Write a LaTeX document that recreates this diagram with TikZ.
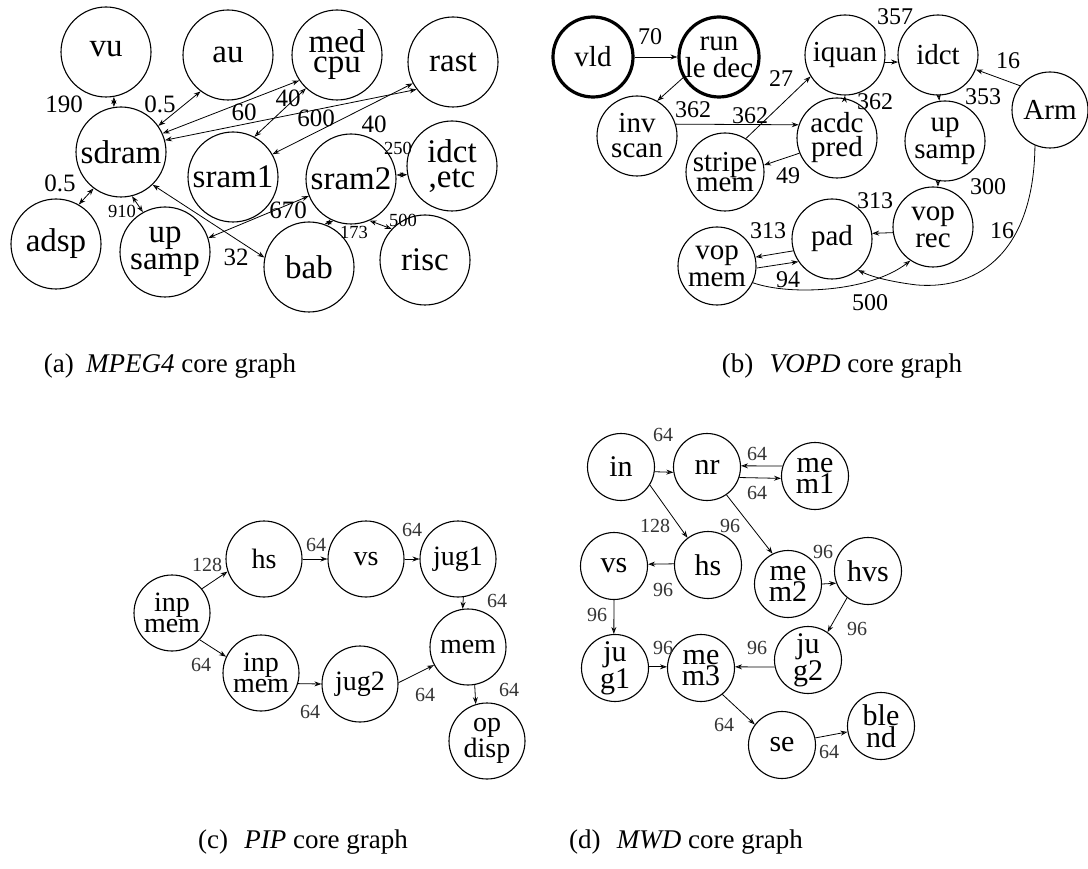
\documentclass[tikz,border=0pt]{standalone}
\usepackage{fontspec}
\setmainfont{Liberation Serif}
\usetikzlibrary{arrows.meta}
\begin{document}
\begin{tikzpicture}[x=1pt,y=-1pt,
  >={Stealth[open,length=7pt,width=5pt]},
  core/.style={circle,draw,line width=1.1pt,inner sep=0pt},
  ca/.style={core,minimum size=90pt},
  cb/.style={core,minimum size=80pt},
  cc/.style={core,minimum size=76pt},
  cd/.style={core,minimum size=67pt},
  heavy/.style={line width=3.2pt},
  txt/.style={rectangle,draw=none,align=center,inner sep=0pt},
  ta/.style={txt,font=\fontsize{33}{27}\selectfont},
  tb/.style={txt,font=\fontsize{29}{27}\selectfont},
  tc/.style={txt,font=\fontsize{28}{21}\selectfont},
  td/.style={txt,font=\fontsize{30}{17}\selectfont},
  lbl/.style={inner sep=0pt},
  la/.style={lbl,font=\fontsize{25}{25}\selectfont},
  las/.style={lbl,font=\fontsize{18.5}{18.5}\selectfont},
  lb/.style={lbl,font=\fontsize{24}{24}\selectfont},
  lc/.style={lbl,font=\fontsize{20}{20}\selectfont,text=black!80},
  captxt/.style={inner sep=0pt,font=\fontsize{27}{27}\selectfont},
  link/.style={line width=0.8pt},
]
\useasboundingbox (0,0) rectangle (1088,869);

% ---------------- (a) MPEG4 ----------------
\node[ca] (vu) at (106,52) {};
\node[ca] (au) at (228,55) {};
\node[ca] (medcpu) at (337,55) {};
\node[ca] (rast) at (453,62) {};
\node[ca] (sdram) at (121,152) {};
\node[ca] (sram1) at (233,177) {};
\node[ca] (sram2) at (351,179) {};
\node[ca] (idct) at (452,166) {};
\node[ca] (adsp) at (56,244) {};
\node[ca] (upsamp) at (165,252) {};
\node[ca] (bab) at (309,267) {};
\node[ca] (risc) at (425,260) {};

\node[ta] (vu-t) at (106,49) {vu};
\node[ta] (au-t) at (au) {au};
\node[ta,font=\fontsize{33}{20}\selectfont] (medcpu-t) at (medcpu) {med\\cpu};
\node[ta] (rast-t) at (rast) {rast};
\node[ta] (sdram-t) at (sdram) {sdram};
\node[ta] (sram1-t) at (sram1) {sram1};
\node[ta] (sram2-t) at (sram2) {sram2};
\node[ta,font=\fontsize{33}{25}\selectfont] (idct-t) at (idct) {idct\\,etc};
\node[ta] (adsp-t) at (adsp) {adsp};
\node[ta] (upsamp-t) at (upsamp) {up\\samp};
\node[ta] (bab-t) at (bab) {bab};
\node[ta] (risc-t) at (risc) {risc};

\draw[link,<->] (vu.-80) -- (sdram.99);
\draw[link,<->] (sdram.35) -- (au.233);
\draw[link,<->] (sdram.24) -- (medcpu.214);
\draw[link,<->] (medcpu.227) -- (sram1.62);
\draw[link,<->] (sdram.15) -- (rast.217);
\draw[link,<->] (rast.208) -- (sram1.30);
\draw[link,<->] (sram2.5) -- (idct.191);
\draw[link,<->] (adsp.60) -- (sdram.233);
\draw[link,<->] (sdram.-76) -- (upsamp.119);
\draw[link,<->] (sdram.-46) -- (bab.168);
\draw[link,<->] (sram2.202) -- (upsamp.18);
\draw[link,<->] (sram2.247) -- (bab.70);
\draw[link,<->] (sram2.-66) -- (risc.137);

\node[la] (a1) at (64,104) {190};
\node[la] (a2) at (160,104) {0.5};
\node[la] (a3) at (244,112) {60};
\node[la] (a4) at (288,98) {40};
\node[la] (a5) at (316,118) {600};
\node[la] (a6) at (374,124) {40};
\node[la] (a7) at (60,183) {0.5};
\node[la] (a8) at (236,257) {32};
\node[la] (a9) at (288,210) {670};
\node[las] (a10) at (398,148) {250};
\node[las] (a11) at (122,211) {910};
\node[las] (a12) at (354,232) {173};
\node[las] (a13) at (403,220) {500};

\node[captxt] (capa) at (170,366) {(a)\hspace{0.45em}\textit{MPEG4} core graph};

% ---------------- (b) VOPD ----------------
\node[cb,heavy] (vld) at (593,57) {};
\node[cb,heavy] (rld) at (719,57) {};
\node[cb] (inv) at (637,136) {};
\node[cb] (iquan) at (845,55) {};
\node[cb] (idctb) at (938,55) {};
\node[cb,minimum size=76pt] (arm) at (1050,110) {};
\node[cb] (acdc) at (837,138) {};
\node[cb] (upsb) at (945,141) {};
\node[cb,minimum size=78pt] (stripe) at (725,172) {};
\node[cb] (voprec) at (933,227) {};
\node[cb] (pad) at (832,239) {};
\node[cb,minimum size=78pt] (vopmem) at (717,266) {};

\node[tb] (vld-t) at (vld) {vld};
\node[tb] (rld-t) at (rld) {run\\le dec};
\node[tb,font=\fontsize{29}{25}\selectfont] (inv-t) at (inv) {inv\\scan};
\node[tb] (iquan-t) at (iquan) {iquan};
\node[tb] (idctb-t) at (idctb) {idct};
\node[tb] (arm-t) at (arm) {Arm};
\node[tb,font=\fontsize{29}{24}\selectfont] (acdc-t) at (acdc) {acdc\\pred};
\node[tb] (upsb-t) at (upsb) {up\\samp};
\node[tb,font=\fontsize{29}{19}\selectfont] (stripe-t) at (stripe) {stripe\\mem};
\node[tb] (voprec-t) at (voprec) {vop\\rec};
\node[tb] (pad-t) at (pad) {pad};
\node[tb] (vopmem-t) at (vopmem) {vop\\mem};

\draw[link,->] (vld.0) -- (rld.180);
\draw[link,->] (rld.210) -- (inv.60);
\draw[link,->] (inv.17) -- (acdc.161);
\draw[link,->] (stripe.58) -- (iquan.212);
\draw[link,->] (acdc.202) -- (stripe.10);
\draw[link,->] (acdc.79) -- (iquan.-90);
\draw[link,->] (iquan.-10) -- (idctb.190);
\draw[link,->] (arm.141) -- (idctb.-21);
\draw[link,->] (idctb.-89) -- (upsb.98);
\draw[link,->] (upsb.-100) -- (voprec.83);
\draw[link,->] (voprec.188) -- (pad.8);
\draw[link,->] (pad.197) -- (vopmem.13);
\draw[link,->] (vopmem.-3) -- (pad.214);
\draw[link,->] (vopmem.-25) .. controls (790,296) and (870,292) .. (voprec.236);
\draw[link,->] (arm.247) .. controls (1034,250) and (980,290) .. (917,285)
  .. controls (892,282) and (872,277) .. (pad.-50);

\node[lb] (b1) at (650,37) {70};
\node[lb] (b2) at (693,110) {362};
\node[lb] (b3) at (750,116) {362};
\node[lb] (b4) at (781,79) {27};
\node[lb] (b5) at (788,176) {49};
\node[lb] (b6) at (875,102) {362};
\node[lb] (b7) at (895,17) {357};
\node[lb] (b8) at (1008,61) {16};
\node[lb] (b9) at (983,97) {353};
\node[lb] (b10) at (988,187) {300};
\node[lb] (b11) at (875,201) {313};
\node[lb] (b12) at (768,231) {313};
\node[lb] (b13) at (788,280) {94};
\node[lb] (b14) at (870,303) {500};
\node[lb] (b15) at (1002,231) {16};

\node[captxt] (capb) at (842,366) {(b)\hspace{0.6em}\textit{VOPD} core graph};

% ---------------- (c) PIP ----------------
\node[cc] (hs) at (264,559) {};
\node[cc] (vs) at (366,559) {};
\node[cc] (jug1) at (458,559) {};
\node[cc] (inpa) at (172,613) {};
\node[cc] (inpb) at (261,673) {};
\node[cc] (jug2) at (360,684) {};
\node[cc] (memc) at (468,647) {};
\node[cc] (opdisp) at (487,741) {};

\node[tc] (hs-t) at (hs) {hs};
\node[tc] (vs-t) at (vs) {vs};
\node[tc] (jug1-t) at (jug1) {jug1};
\node[tc] (inpa-t) at (inpa) {inp\\mem};
\node[tc] (inpb-t) at (inpb) {inp\\mem};
\node[tc] (jug2-t) at (jug2) {jug2};
\node[tc] (memc-t) at (memc) {mem};
\node[tc] (opdisp-t) at (opdisp) {op\\disp};

\draw[link,->] (inpa.39) -- (hs.199);
\draw[link,->] (inpa.-44) -- (inpb.155);
\draw[link,->] (hs.0) -- (vs.180);
\draw[link,->] (vs.0) -- (jug1.180);
\draw[link,->] (jug1.-82) -- (memc.98);
\draw[link,->] (inpb.-16) -- (jug2.180);
\draw[link,->] (jug2.2) -- (memc.208);
\draw[link,->] (memc.-80) -- (opdisp.107);

\node[lc] (c1) at (207,565) {128};
\node[lc] (c2) at (201,665) {64};
\node[lc] (c3) at (316,545) {64};
\node[lc] (c4) at (412,530) {64};
\node[lc] (c5) at (497,601) {64};
\node[lc] (c6) at (310,712) {64};
\node[lc] (c7) at (425,695) {64};
\node[lc] (c8) at (509,690) {64};

\node[captxt] (capc) at (303,842) {(c)\hspace{0.6em}\textit{PIP} core graph};

% ---------------- (d) MWD ----------------
\node[cd] (in) at (621,467) {};
\node[cd] (nr) at (707,467) {};
\node[cd] (mem1) at (815,476) {};
\node[cd] (hsd) at (708,565) {};
\node[cd] (vsd) at (614,566) {};
\node[cd] (mem2) at (788,584) {};
\node[cd] (hvs) at (868,571) {};
\node[cd] (jg1) at (615,668) {};
\node[cd] (mem3) at (701,668) {};
\node[cd] (jg2) at (808,660) {};
\node[cd] (se) at (782,745) {};
\node[cd] (blend) at (881,726) {};

\node[td] (in-t) at (in) {in};
\node[td] (nr-t) at (nr) {nr};
\node[td] (mem1-t) at (mem1) {me\\m1};
\node[td] (hsd-t) at (hsd) {hs};
\node[td] (vsd-t) at (vsd) {vs};
\node[td] (mem2-t) at (mem2) {me\\m2};
\node[td] (hvs-t) at (hvs) {hvs};
\node[td] (jg1-t) at (jg1) {ju\\g1};
\node[td] (mem3-t) at (mem3) {me\\m3};
\node[td] (jg2-t) at (jg2) {ju\\g2};
\node[td] (se-t) at (se) {se};
\node[td] (blend-t) at (blend) {ble\\nd};

\draw[link,->] (in.-8) -- (nr.189);
\draw[link,->] (mem1.163) -- (nr.2);
\draw[link,->] (nr.-18) -- (mem1.184);
\draw[link,->] (in.-32) -- (hsd.127);
\draw[link,->] (nr.-55) -- (mem2.117);
\draw[link,->] (hsd.178) -- (vsd.3);
\draw[link,->] (vsd.-90) -- (jg1.92);
\draw[link,->] (mem2.0) -- (hvs.201);
\draw[link,->] (hvs.232) -- (jg2.55);
\draw[link,->] (jg1.2) -- (mem3.178);
\draw[link,->] (jg2.192) -- (mem3.2);
\draw[link,->] (mem3.-51) -- (se.143);
\draw[link,->] (se.12) -- (blend.190);

\node[lc] (d1) at (663,435) {64};
\node[lc] (d2) at (757,454) {64};
\node[lc] (d3) at (757,493) {64};
\node[lc] (d4) at (655,526) {128};
\node[lc] (d5) at (730,526) {96};
\node[lc] (d6) at (663,590) {96};
\node[lc] (d7) at (597,615) {96};
\node[lc] (d8) at (823,552) {96};
\node[lc] (d9) at (857,629) {96};
\node[lc] (d10) at (663,648) {96};
\node[lc] (d11) at (757,648) {96};
\node[lc] (d12) at (724,725) {64};
\node[lc] (d13) at (829,752) {64};

\node[captxt] (capd) at (686,842) {(d)\hspace{0.6em}\textit{MWD} core graph};
\end{tikzpicture}
\end{document}
